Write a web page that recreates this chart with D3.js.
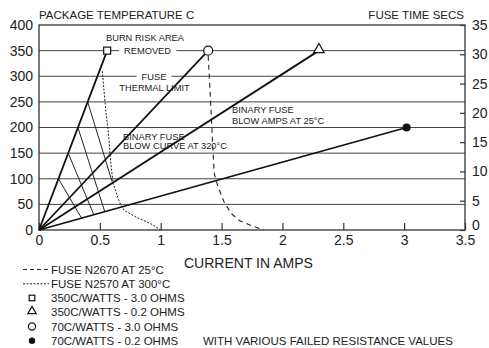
<!DOCTYPE html>
<html>
<head>
<meta charset="utf-8">
<script src="https://cdn.jsdelivr.net/npm/d3@7"></script>
<style>
  body { margin: 0; background: #fff; }
  text { font-family: "Liberation Sans", Arial, sans-serif; fill: #222; }
</style>
</head>
<body>
<svg width="489" height="348"></svg>
<script>
// axis ticks
var ampTicks  = [0, 0.5, 1, 1.5, 2, 2.5, 3, 3.5];
var tempTicks = [0, 50, 100, 150, 200, 250, 300, 350, 400];
var timeTicks = [0, 5, 10, 15, 20, 25, 30, 35];

// resistor rating lines, from origin to marker
var ratingNames = ['350C/WATTS - 3.0 OHMS', '350C/WATTS - 0.2 OHMS', '70C/WATTS - 3.0 OHMS', '70C/WATTS - 0.2 OHMS'];
var ratingMarks = ['square', 'triangle', 'circle', 'dot'];
var ratingAmps  = [0.56, 2.3, 1.39, 3.02];
var ratingTemps = [350, 350, 350, 200];

// fuse curves
var fuse25Amps  = [1.39, 1.41, 1.43, 1.44, 1.47, 1.52, 1.58, 1.65, 1.75, 1.85];
var fuse25Temps = [340, 250, 150, 110, 85, 55, 32, 18, 8, 0];
var fuse300Amps  = [0.52, 0.55, 0.57, 0.59, 0.61, 0.66, 0.70, 0.80, 0.92, 1.0];
var fuse300Temps = [310, 230, 190, 130, 90, 55, 38, 25, 12, 0];

// binary fuse blow curve hatching (start amps/temp, end amps/temp)
var hatchAmps1  = [0.40, 0.32, 0.24, 0.16];
var hatchTemps1 = [250, 200, 150, 100];
var hatchAmps2  = [0.60, 0.54, 0.45, 0.35];
var hatchTemps2 = [95, 36, 30, 23];

var svg = d3.select('svg');
var x  = d3.scaleLinear().domain([0, 3.5]).range([39, 465]);
var y  = d3.scaleLinear().domain([0, 400]).range([230, 25]);
var yR = d3.scaleLinear().domain([0, 35]).range([230, 25]);

// grid
svg.append('g').selectAll('line')
  .data(tempTicks.slice(1, -1))
  .enter().append('line')
  .attr('x1', x(0)).attr('x2', x(3.5))
  .attr('y1', function(d) { return y(d); })
  .attr('y2', function(d) { return y(d); })
  .attr('stroke', '#444').attr('stroke-width', 1);

// axes
var left = svg.append('g').attr('transform', 'translate(' + x(0) + ',0)')
  .call(d3.axisLeft(y).tickValues(tempTicks).tickSize(0).tickPadding(6));
left.select('.domain').remove();
left.selectAll('text').style('font-size', '14px').attr('font-family', null);

var bottom = svg.append('g').attr('transform', 'translate(0,' + y(0) + ')')
  .call(d3.axisBottom(x).tickValues(ampTicks).tickSize(-7).tickPadding(5)
    .tickFormat(function(d) { return String(d); }));
bottom.select('.domain').remove();
bottom.selectAll('line').attr('stroke', '#333').attr('stroke-width', 1.2);
bottom.selectAll('text').style('font-size', '14px').attr('font-family', null);

var right = svg.append('g').attr('transform', 'translate(' + x(3.5) + ',0)')
  .call(d3.axisRight(yR).tickValues(timeTicks).tickSize(-5).tickPadding(7));
right.select('.domain').remove();
right.selectAll('line').attr('stroke', '#333').attr('stroke-width', 1.2);
right.selectAll('text').style('font-size', '14px').attr('font-family', null)
  .attr('dy', function(d) { return d === 0 ? '-0.05em' : '0.32em'; });

// frame
svg.append('rect')
  .attr('x', x(0)).attr('y', y(400))
  .attr('width', x(3.5) - x(0)).attr('height', y(0) - y(400))
  .attr('fill', 'none').attr('stroke', '#333').attr('stroke-width', 1.3);

// labels on grid lines (white behind so the line breaks)
function boxedLabel(txt, cx, cy) {
  var g = svg.append('g');
  var t = g.append('text').attr('x', cx).attr('y', cy).attr('dy', '0.35em')
    .attr('text-anchor', 'middle').style('font-size', '9.3px').text(txt);
  var b = t.node().getBBox();
  g.insert('rect', 'text').attr('x', b.x - 5).attr('y', b.y)
    .attr('width', b.width + 10).attr('height', b.height).attr('fill', '#fff');
}
boxedLabel('REMOVED', 147.5, y(350));
boxedLabel('FUSE', 154, y(300));

var small = [
  ['BURN RISK AREA', 145, 37.5, 'middle'],
  ['THERMAL LIMIT', 154.5, 88, 'middle'],
  ['BINARY FUSE', 232, 110, 'start'],
  ['BLOW AMPS AT 25°C', 232, 121, 'start'],
  ['BINARY FUSE', 123, 136.5, 'start'],
  ['BLOW CURVE AT 320°C', 123, 145.5, 'start']
];
svg.append('g').selectAll('text').data(small).enter().append('text')
  .attr('x', function(d) { return d[1]; })
  .attr('y', function(d) { return d[2]; })
  .attr('dy', '0.35em')
  .attr('text-anchor', function(d) { return d[3]; })
  .style('font-size', '9.3px')
  .text(function(d) { return d[0]; });

// hatching
svg.append('g').selectAll('line')
  .data(hatchAmps1)
  .enter().append('line')
  .attr('x1', function(d) { return x(d); })
  .attr('y1', function(d, i) { return y(hatchTemps1[i]); })
  .attr('x2', function(d, i) { return x(hatchAmps2[i]); })
  .attr('y2', function(d, i) { return y(hatchTemps2[i]); })
  .attr('stroke', '#222').attr('stroke-width', 1);

// fuse curves
var line = d3.line().x(function(d) { return x(d[0]); }).y(function(d) { return y(d[1]); });
svg.append('path')
  .attr('d', line(d3.zip(fuse25Amps, fuse25Temps)))
  .attr('fill', 'none').attr('stroke', '#222').attr('stroke-width', 1.1)
  .attr('stroke-dasharray', '5,4');
svg.append('path')
  .attr('d', line(d3.zip(fuse300Amps, fuse300Temps)))
  .attr('fill', 'none').attr('stroke', '#222').attr('stroke-width', 1)
  .attr('stroke-dasharray', '2,1.5');

// rating lines
svg.append('g').selectAll('line')
  .data(ratingAmps)
  .enter().append('line')
  .attr('x1', x(0)).attr('y1', y(0))
  .attr('x2', function(d) { return x(d); })
  .attr('y2', function(d, i) { return y(ratingTemps[i]); })
  .attr('stroke', '#111').attr('stroke-width', 1.8);

function drawMark(g, kind, cx, cy, s) {
  if (kind === 'square') {
    g.append('rect').attr('x', cx - 3.5 * s).attr('y', cy - 3.5 * s)
      .attr('width', 7 * s).attr('height', 7 * s)
      .attr('fill', '#fff').attr('stroke', '#111').attr('stroke-width', 1.2);
  } else if (kind === 'triangle') {
    g.append('path').attr('transform', 'translate(' + cx + ',' + (cy - 1) + ')')
      .attr('d', d3.symbol().type(d3.symbolTriangle).size(48 * s * s)())
      .attr('fill', '#fff').attr('stroke', '#111').attr('stroke-width', 1.2);
  } else if (kind === 'circle') {
    g.append('circle').attr('cx', cx).attr('cy', cy).attr('r', 4.5 * s)
      .attr('fill', '#fff').attr('stroke', '#111').attr('stroke-width', 1.2);
  } else {
    g.append('circle').attr('cx', cx).attr('cy', cy).attr('r', 4 * s)
      .attr('fill', '#111');
  }
}
var marks = svg.append('g');
ratingAmps.forEach(function(a, i) {
  drawMark(marks, ratingMarks[i], x(a), y(ratingTemps[i]), 1);
});

// titles
svg.append('text').attr('x', 39).attr('y', 19).style('font-size', '11.5px')
  .text('PACKAGE TEMPERATURE C');
svg.append('text').attr('x', 464).attr('y', 19).attr('text-anchor', 'end')
  .style('font-size', '11.5px').text('FUSE TIME SECS');
svg.append('text').attr('x', 184).attr('y', 263).attr('dy', '0.35em')
  .style('font-size', '14px').text('CURRENT IN AMPS');

// legend
var legY = function(i) { return 269.5 + i * 14.25; };
var legend = svg.append('g');
var legendNames = ['FUSE N2670 AT 25°C', 'FUSE N2570 AT 300°C'].concat(ratingNames);
legend.selectAll('text').data(legendNames).enter().append('text')
  .attr('x', 51).attr('y', function(d, i) { return legY(i); }).attr('dy', '0.35em')
  .style('font-size', '11.5px').text(function(d) { return d; });
legend.append('line').attr('x1', 23).attr('x2', 49).attr('y1', legY(0)).attr('y2', legY(0))
  .attr('stroke', '#222').attr('stroke-width', 1).attr('stroke-dasharray', '4,3');
legend.append('line').attr('x1', 23).attr('x2', 49).attr('y1', legY(1)).attr('y2', legY(1))
  .attr('stroke', '#222').attr('stroke-width', 1).attr('stroke-dasharray', '2,1.5');
ratingMarks.forEach(function(k, i) {
  drawMark(legend, k, 32, legY(i + 2), 0.8);
});
svg.append('text').attr('x', 203).attr('y', legY(5)).attr('dy', '0.35em')
  .style('font-size', '11.5px').text('WITH VARIOUS FAILED RESISTANCE VALUES');
</script>
</body>
</html>
